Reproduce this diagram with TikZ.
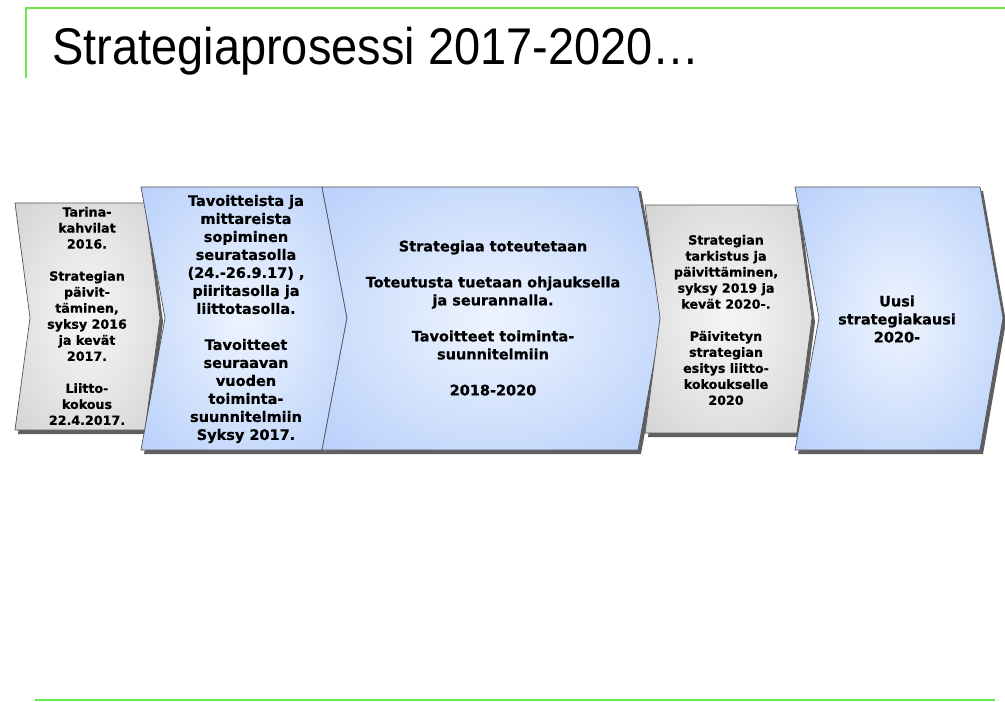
\documentclass[tikz,border=0pt]{standalone}
\usepackage{fontspec}
\setmainfont{DejaVu Sans}
\newfontfamily\titlefont[FakeStretch=0.91]{Liberation Sans}
\newfontfamily\chevfont[FakeBold=0.6]{DejaVu Sans Bold}
\usepackage{xcolor}
\usepackage{tikz}

\definecolor{slidegreen}{RGB}{105,232,75}
\definecolor{chevline}{RGB}{85,85,85}
\definecolor{chevshade}{RGB}{95,95,95}
\definecolor{bluemid}{RGB}{238,244,254}
\definecolor{bluehalf}{RGB}{205,222,252}
\definecolor{blueedge}{RGB}{165,195,250}
\definecolor{graymid}{RGB}{246,246,246}
\definecolor{grayhalf}{RGB}{226,226,226}
\definecolor{grayedge}{RGB}{198,198,198}

\pgfdeclareradialshading{bluefade}{\pgfpointorigin}{color(0bp)=(bluemid); color(22bp)=(bluehalf); color(48bp)=(blueedge); color(72bp)=(blueedge)}
\pgfdeclareradialshading{grayfade}{\pgfpointorigin}{color(0bp)=(graymid); color(22bp)=(grayhalf); color(48bp)=(grayedge); color(72bp)=(grayedge)}

\begin{document}
\begin{tikzpicture}[
  x=0.025cm, y=-0.025cm,
  greenline/.style={draw=slidegreen,line width=1.6pt},
  shade/.style={fill=chevshade,shift={(3,4)}},
  bluechev/.style={shading=bluefade,draw=chevline,line width=0.5pt},
  graychev/.style={shading=grayfade,draw=chevline,line width=0.5pt},
  bluetext/.style={align=center,font=\chevfont\fontsize{10.3}{12.8}\selectfont},
  graytext/.style={align=center,font=\chevfont\fontsize{9}{11.4}\selectfont},
]
\useasboundingbox (0,0) rectangle (1005,702);

% frame lines
\draw[greenline] (26,78) -- (26,8) -- (1005,8);
\draw[greenline] (35,700) -- (995,700);

\node[anchor=base west,inner sep=0pt,font=\titlefont\fontsize{36.7}{44}\selectfont] (title) at (52,65) {Strategiaprosessi 2017-2020…};

% chevrons
\fill[shade] (15,203) -- (145,203) -- (160,318) -- (145,430) -- (15,430) -- (30,318) -- cycle;
\path[graychev] (15,203) -- (145,203) -- (160,318) -- (145,430) -- (15,430) -- (30,318) -- cycle;

\fill[shade] (141,187) -- (322,187) -- (347,318) -- (322,450) -- (141,450) -- (165,318) -- cycle;
\path[bluechev] (141,187) -- (322,187) -- (347,318) -- (322,450) -- (141,450) -- (165,318) -- cycle;

\fill[shade] (322,187) -- (638,187) -- (662,318) -- (638,450) -- (322,450) -- (347,318) -- cycle;
\path[bluechev] (322,187) -- (638,187) -- (662,318) -- (638,450) -- (322,450) -- (347,318) -- cycle;

\fill[shade] (645,205) -- (797,205) -- (812,318) -- (797,433) -- (645,433) -- (660,318) -- cycle;
\path[graychev] (645,205) -- (797,205) -- (812,318) -- (797,433) -- (645,433) -- (660,318) -- cycle;

\fill[shade] (795,187) -- (980,187) -- (1003,318) -- (980,450) -- (795,450) -- (819,318) -- cycle;
\path[bluechev] (795,187) -- (980,187) -- (1003,318) -- (980,450) -- (795,450) -- (819,318) -- cycle;

% texts
\node[graytext] (kahvilat) at (87,316) {Tarina-\\kahvilat\\2016.\\[\baselineskip]Strategian\\päivit-\\täminen,\\syksy 2016\\ja kevät\\2017.\\[\baselineskip]Liitto-\\kokous\\22.4.2017.};
\node[bluetext] (sopiminen) at (246,319) {Tavoitteista ja\\mittareista\\sopiminen\\seuratasolla\\(24.-26.9.17) ,\\piiritasolla ja\\liittotasolla.\\[\baselineskip]Tavoitteet\\seuraavan\\vuoden\\toiminta-\\suunnitelmiin\\Syksy 2017.};
\node[bluetext] (toteutus) at (493,318) {Strategiaa toteutetaan\\[\baselineskip]Toteutusta tuetaan ohjauksella\\ja seurannalla.\\[\baselineskip]Tavoitteet toiminta-\\suunnitelmiin\\[\baselineskip]2018-2020};
\node[graytext] (tarkistus) at (726,320) {Strategian\\tarkistus ja\\päivittäminen,\\syksy 2019 ja\\kevät 2020-.\\[\baselineskip]Päivitetyn\\strategian\\esitys liitto-\\kokoukselle\\2020};
\node[bluetext] (uusikausi) at (897,319) {Uusi\\strategiakausi\\2020-};
\end{tikzpicture}
\end{document}
